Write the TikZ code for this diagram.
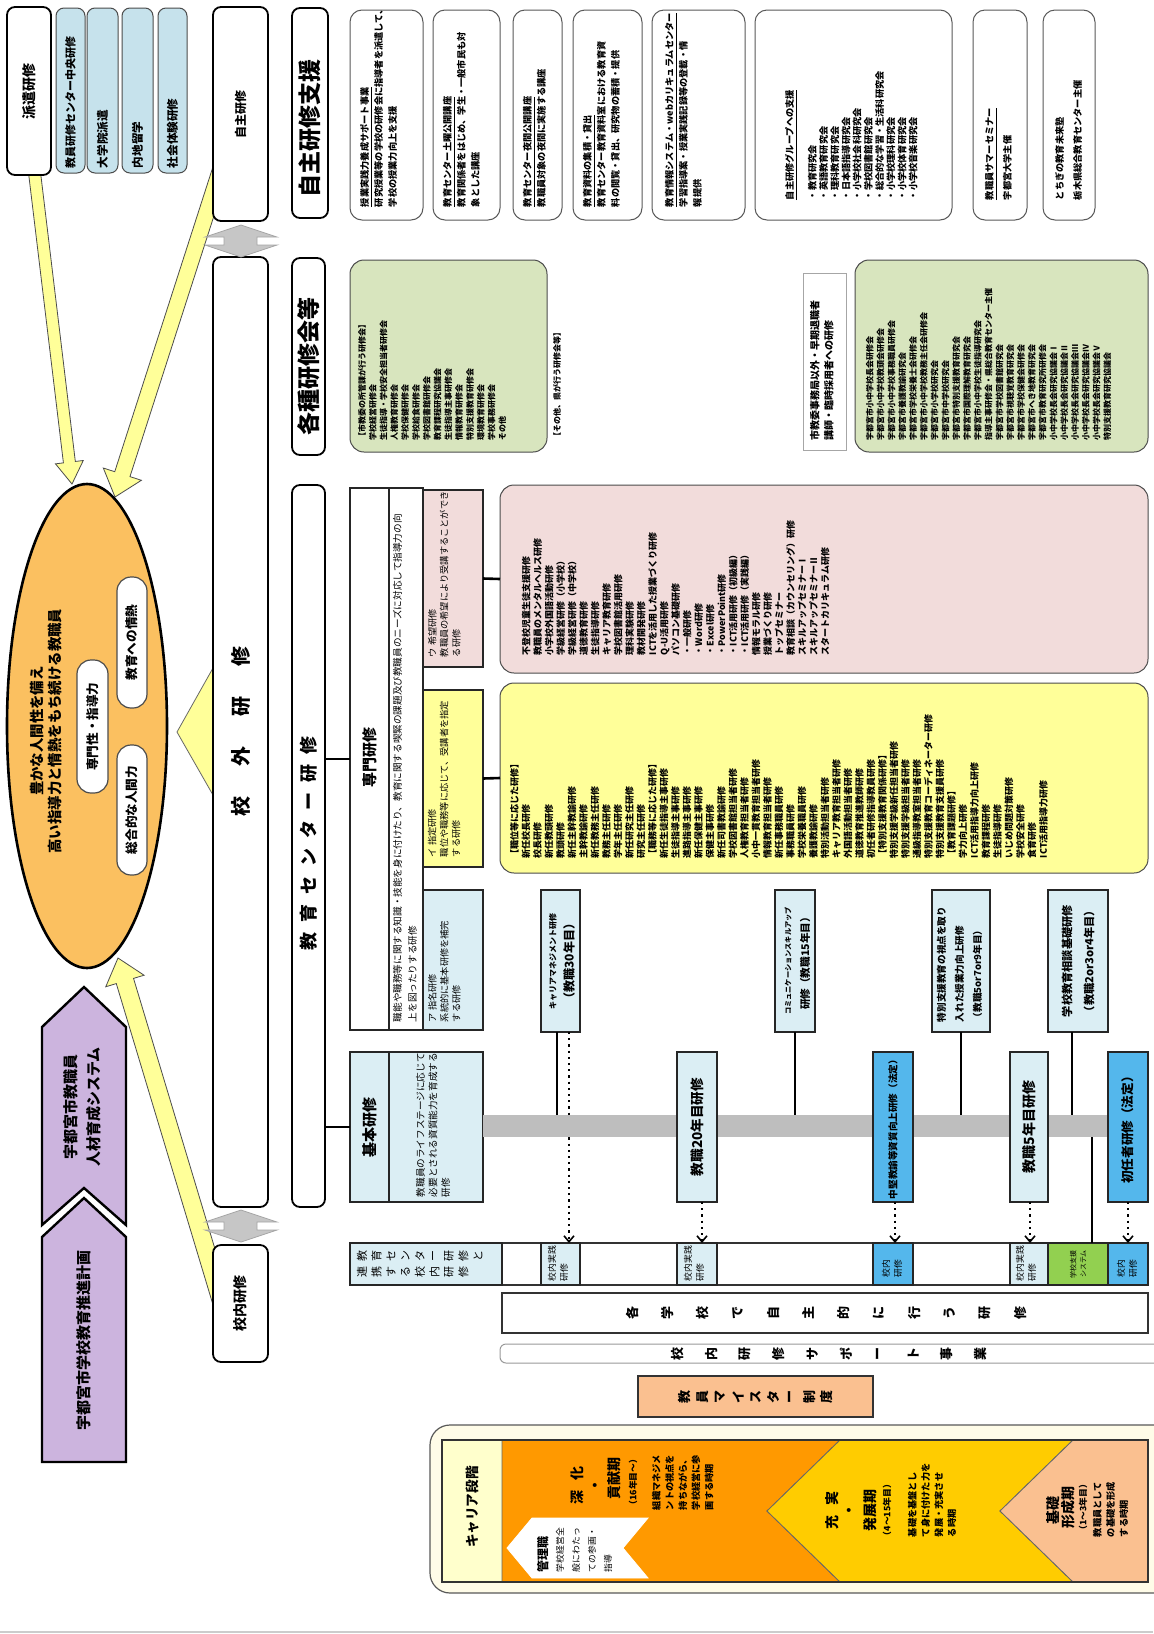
\documentclass[tikz,border=0pt]{standalone}
\usepackage{fontspec}
\setmainfont{Noto Sans CJK JP}
\usetikzlibrary{calc,shapes.geometric,arrows.meta}
\definecolor{lblue}{RGB}{219,238,244}
\definecolor{tblue}{RGB}{198,226,236}
\definecolor{sblue}{RGB}{84,183,236}
\definecolor{pinkbg}{RGB}{242,220,219}
\definecolor{yelbg}{RGB}{255,255,153}
\definecolor{grnbg}{RGB}{216,229,190}
\definecolor{ellc}{RGB}{251,192,96}
\definecolor{purp}{RGB}{204,180,222}
\definecolor{peach}{RGB}{250,192,144}
\definecolor{orng}{RGB}{255,153,0}
\definecolor{gold}{RGB}{255,204,0}
\definecolor{cream}{RGB}{255,252,232}
\definecolor{hdr}{RGB}{255,255,204}
\definecolor{bandc}{RGB}{190,190,190}
\definecolor{gcell}{RGB}{146,208,80}
\definecolor{arrowy}{RGB}{255,255,153}
\newcommand\bx[6]{\node[#6,inner sep=0pt,outer sep=0pt,minimum width={(#4-#2)*0.5pt},minimum height={(#5-#3)*0.5pt}] (#1) at ({(#2+#4)/2},{(#3+#5)/2}) {};}
\newcommand\fz[2]{\fontsize{#1}{#2}\selectfont}
\newcommand\yarrow[5]{%
  \coordinate (hb) at ($(#2)!#5pt!(#1)$);
  \filldraw[fill=arrowy,draw=black!70,line width=0.4pt]
   ($(#1)!#3pt!90:(#2)$) -- ($(hb)!#3pt!90:(#2)$) -- ($(hb)!#4pt!90:(#2)$) -- (#2)
   -- ($(hb)!#4pt!-90:(#2)$) -- ($(hb)!#3pt!-90:(#2)$) -- ($(#1)!#3pt!-90:(#2)$) -- cycle;}
\begin{document}
\begin{tikzpicture}[x=0.5pt,y=-0.5pt,
  vt/.style={rotate=90,inner sep=0pt,outer sep=0pt,align=center},
  vl/.style={rotate=90,inner sep=0pt,outer sep=0pt,align=left,anchor=north west},
  wbox/.style={draw=black,line width=0.9pt,rounded corners=4pt,fill=white},
  gbox/.style={draw=gray!70!black,line width=0.5pt,rounded corners=6pt,fill=white},
  tbox/.style={draw=gray!60!black,line width=0.5pt,rounded corners=4pt,fill=tblue},
  sq/.style={draw=black!85,line width=0.8pt,fill=lblue},
  conn/.style={line width=1.3pt},
  dotarr/.style={line width=1.1pt,dotted,-{Straight Barb[length=3pt,width=5pt,line width=0.8pt]}}]
\useasboundingbox (0,0) rectangle (1153,1634);
\fill[white] (0,0) rectangle (1153,1634);
\draw[gray!40,line width=0.6pt] (0,1632) -- (1153,1632);

% ---------- yellow block arrows ----------
\coordinate (a1t) at (33,160); \coordinate (a1p) at (72,484);
\coordinate (a2t) at (230,140); \coordinate (a2p) at (115,497);
\coordinate (a3t) at (230,1330); \coordinate (a3p) at (118,958);
\yarrow{a1t}{a1p}{3}{7}{11}
\yarrow{a2t}{a2p}{4}{10}{12}
\yarrow{a3t}{a3p}{4.5}{10}{12}
\filldraw[fill=arrowy,draw=black!60,line width=0.4pt] (177,732) -- (213,668) -- (213,795) -- cycle;

% ---------- goal ellipse ----------
\node[ellipse,draw=black,line width=1.3pt,fill=ellc,minimum width=80pt,minimum height=242pt,inner sep=0pt] (ell) at (87,726) {};
\node[vt,font=\fz{7.2}{9}\bfseries] (goal) at (46,731) {豊かな人間性を備え\\高い指導力と情熱をもち続ける教職員};
\bx{q1}{77}{660}{108}{793}{draw=black!70,line width=0.6pt,rounded corners=7pt,fill=white}
\node[vt,font=\fz{6.3}{7}\bfseries] (q1t) at (q1) {専門性・指導力};
\bx{q2}{117}{577}{147}{708}{draw=black!70,line width=0.6pt,rounded corners=7pt,fill=white}
\node[vt,font=\fz{6.3}{7}\bfseries] (q2t) at (q2) {教育への情熱};
\bx{q3}{117}{745}{147}{875}{draw=black!70,line width=0.6pt,rounded corners=7pt,fill=white}
\node[vt,font=\fz{6.3}{7}\bfseries] (q3t) at (q3) {総合的な人間力};

% ---------- purple plans ----------
\filldraw[fill=purp,draw=black,line width=1.2pt] (84,987) -- (126,1027) -- (126,1225) -- (84,1188) -- (42,1225) -- (42,1027) -- cycle;
\filldraw[fill=purp,draw=black,line width=1.2pt] (84,1198) -- (126,1237) -- (126,1462) -- (42,1462) -- (42,1237) -- cycle;
\node[vt,font=\fz{7.5}{11.5}\bfseries] (p1) at (82,1107) {宇都宮市教職員\\人材育成システム};
\node[vt,font=\fz{7.5}{9}\bfseries] (p2) at (84,1340) {宇都宮市学校教育推進計画};

% ---------- dispatch ----------
\bx{haken}{7}{7}{51}{175}{wbox}
\node[vt,font=\fz{7}{8}\bfseries] (hakent) at (haken) {派遣研修};
\bx{h1}{56}{8}{85}{173}{tbox}
\node[vt,anchor=west,font=\fz{5.5}{6}\bfseries] (h1t) at (70.5,168) {教員研修センター中央研修};
\bx{h2}{87}{8}{118}{173}{tbox}
\node[vt,anchor=west,font=\fz{5.8}{6}\bfseries] (h2t) at (102.5,168) {大学院派遣};
\bx{h3}{122}{8}{153}{173}{tbox}
\node[vt,anchor=west,font=\fz{5.8}{6}\bfseries] (h3t) at (137.5,168) {内地留学};
\bx{h4}{158}{8}{187}{173}{tbox}
\node[vt,anchor=west,font=\fz{5.8}{6}\bfseries] (h4t) at (172.5,168) {社会体験研修};

% ---------- column of categories ----------
\bx{jishu}{213}{7}{268}{221}{wbox}
\node[vt,font=\fz{6}{7}\bfseries] (jishut) at (jishu) {自主研修};
\bx{jshien}{292}{8}{328}{218}{wbox}
\node[vt,font=\fz{11.5}{12}\bfseries] (jshient) at (310,128) {自主研修支援};
\bx{kougai}{213}{257}{268}{1207}{wbox}
\node[vt,font=\fz{10}{10}\bfseries] (kougait) at (241,731) {校\hspace{15pt}外\hspace{15pt}研\hspace{15pt}修};
\bx{kakushu}{292}{258}{325}{455}{wbox}
\node[vt,font=\fz{11.5}{12}\bfseries] (kakushut) at (309,366) {各種研修会等};
\bx{center}{292}{485}{325}{1207}{wbox}
\node[vt,font=\fz{9}{9}\bfseries] (centert) at (309,843) {教\hspace{5pt}育\hspace{5pt}セ\hspace{5pt}ン\hspace{5pt}タ\hspace{5pt}ー\hspace{5pt}研\hspace{5pt}修};
\bx{kounai}{213}{1245}{268}{1362}{wbox}
\node[vt,font=\fz{7}{8}\bfseries] (kounait) at (kounai) {校内研修};
\filldraw[fill=gray!45,draw=gray!70,line width=0.4pt] (205,237) -- (241,225) -- (277,237) -- (257,237) -- (257,245) -- (277,245) -- (241,257) -- (205,245) -- (224,245) -- (224,237) -- cycle;
\filldraw[fill=gray!45,draw=gray!70,line width=0.4pt] (205,1222) -- (241,1210) -- (277,1222) -- (257,1222) -- (257,1230) -- (277,1230) -- (241,1242) -- (205,1230) -- (224,1230) -- (224,1222) -- cycle;

% ---------- self-study support row ----------
\bx{s1}{350}{10}{423}{220}{gbox}
\node[vl,font=\fz{4.6}{7}\bfseries] (s1t) at (360,207) {\underline{授業実践力養成サポート事業}\\研究授業等の学校の研修会に指導者を派遣して、\\学校の授業力向上を支援};
\bx{s2}{433}{10}{500}{220}{gbox}
\node[vl,font=\fz{4.6}{7}\bfseries] (s2t) at (443,207) {\underline{教育センター土曜公開講座}\\教育関係者をはじめ、学生・一般市民も対\\象とした講座};
\bx{s3}{513}{10}{562}{220}{gbox}
\node[vl,font=\fz{4.6}{7}\bfseries] (s3t) at (523,207) {\underline{教育センター夜間公開講座}\\教職員対象の夜間に実施する講座};
\bx{s4}{573}{10}{642}{220}{gbox}
\node[vl,font=\fz{4.6}{7}\bfseries] (s4t) at (583,207) {\underline{教育資料の集積・貸出}\\教育センター教育資料室における教育資\\料の閲覧・貸出、研究物の蓄積・提供};
\bx{s5}{652}{10}{745}{220}{gbox}
\node[vl,font=\fz{4.6}{7}\bfseries] (s5t) at (665,207) {\underline{教育情報システム・webカリキュラムセンター}\\学習指導案・授業実践記録等の登載・情\\報提供};
\bx{s6}{755}{10}{952}{220}{gbox}
\node[vl,font=\fz{4.6}{5.6}\bfseries] (s6t) at (785,200) {\underline{自主研修グループへの支援}\\[4pt]・教育研究会\\・英語教育研究会\\・理科教育研究会\\・日本語指導研究会\\・小学校社会科研究会\\・学校図書館研究会\\・総合的な学習・生活科研究会\\・小学校理科研究会\\・小学校体育研究会\\・小学校音楽研究会};
\bx{s7}{973}{10}{1027}{220}{gbox}
\node[vl,font=\fz{4.6}{9}\bfseries] (s7t) at (985,200) {\underline{教職員サマーセミナー}\\宇都宮大学主催};
\bx{s8}{1043}{10}{1095}{220}{gbox}
\node[vl,font=\fz{4.6}{9}\bfseries] (s8t) at (1055,200) {とちぎの教育未来塾\\栃木県総合教育センター主催};

% ---------- various workshops ----------
\bx{g1}{350}{260}{547}{452}{draw=gray!60!black,line width=0.5pt,rounded corners=7pt,fill=grnbg}
\node[vl,font=\fz{4}{5.4}\bfseries] (g1t) at (358,440) {【市教委の所管課が行う研修会】\\学校経営研修会\\生徒指導・学校安全担当者研修会\\人権教育研修会\\学校保健研修会\\学校給食研修会\\学校図書館研修会\\教育課程研究協議会\\生徒指導主事研修会\\情報教育研修会\\特別支援教育研修会\\環境教育研修会\\学校事務研修会\\その他\\[22pt]【その他、県が行う研修会等】};
\bx{g0}{803}{273}{846}{450}{draw=gray!70,line width=0.4pt,fill=white}
\node[vl,font=\fz{5}{7}\bfseries] (g0t) at (810,440) {市教委事務局以外・早期退職者\\講師・臨時採用者への研修};
\bx{g2}{855}{260}{1148}{452}{draw=gray!60!black,line width=0.5pt,rounded corners=7pt,fill=grnbg}
\node[vl,font=\fz{4}{5.4}\bfseries] (g2t) at (866,440) {宇都宮市小中学校長会研修会\\宇都宮市小中学校教頭会研修会\\宇都宮市小中学校事務職員研修会\\宇都宮市養護教諭研究会\\宇都宮市学校栄養士会研修会\\宇都宮市小中学校教務主任会研修会\\宇都宮市小学校研究会\\宇都宮市中学校研究会\\宇都宮市特別支援教育研究会\\宇都宮市国際理解教育研究会\\宇都宮市小中学校生徒指導研究会\\指導主事研修会・県総合教育センター主催\\宇都宮市学校図書館研究会\\宇都宮市視聴覚教育研究会\\宇都宮市学校保健会研修会\\宇都宮市へき地教育研究会\\宇都宮市教育研究所研修会\\小中学校長会研究協議会Ⅰ\\小中学校長会研究協議会Ⅱ\\小中学校長会研究協議会Ⅲ\\小中学校長会研究協議会Ⅳ\\小中学校長会研究協議会Ⅴ\\特別支援教育研究協議会};

% ---------- specialist training ----------
\bx{pink}{500}{485}{1148}{673}{draw=gray!60!black,line width=0.5pt,rounded corners=7pt,fill=pinkbg}
\node[vl,font=\fz{4.5}{5.75}\bfseries] (pinkt) at (522,655) {不登校児童生徒支援研修\\教職員のメンタルヘルス研修\\小学校外国語活動研修\\学級経営研修（小学校）\\学級経営研修（中学校）\\道徳教育研修\\生徒指導研修\\キャリア教育研修\\学校図書館活用研修\\理科実験研修\\教材開発研修\\ICTを活用した授業づくり研修\\Q-U活用研修\\パソコン基礎研修\\・一般研修\\・Word研修\\・Excel研修\\・PowerPoint研修\\・ICT活用研修（初級編）\\・ICT活用研修（実践編）\\情報モラル研修\\授業づくり研修\\トップセミナー\\教育相談（カウンセリング）研修\\スキルアップセミナーⅠ\\スキルアップセミナーⅡ\\スタートカリキュラム研修};
\bx{yel}{500}{683}{1148}{873}{draw=gray!60!black,line width=0.5pt,rounded corners=7pt,fill=yelbg}
\node[vl,font=\fz{4.5}{5.75}\bfseries] (yelt) at (510,858) {【職位等に応じた研修】\\新任校長研修\\校長研修\\新任教頭研修\\教頭研修\\新任主幹教諭研修\\主幹教諭研修\\新任教務主任研修\\教務主任研修\\学年主任研修\\新任研究主任研修\\研究主任研修\\【職務等に応じた研修】\\新任生徒指導主事研修\\生徒指導主事研修\\進路指導主事研修\\新任保健主事研修\\保健主事研修\\新任司書教諭研修\\学校図書館担当者研修\\人権教育担当者研修\\小中一貫教育担当者研修\\情報教育担当者研修\\新任事務職員研修\\事務職員研修\\学校栄養職員研修\\養護教諭研修\\特別活動担当者研修\\キャリア教育担当者研修\\外国語活動担当者研修\\道徳教育推進教師研修\\初任者研修指導教員研修\\【特別支援教育関係研修】\\特別支援学級新任担当者研修\\特別支援学級担当者研修\\通級指導教室担当者研修\\特別支援教育コーディネーター研修\\特別支援教育支援員研修\\【教育課題研修】\\学力向上研修\\ICT活用指導力向上研修\\教育課程研修\\生徒指導研修\\いじめ問題対策研修\\学校安全研修\\食育研修\\ICT活用指導力研修};

\bx{senmon}{350}{488}{423}{1030}{sq,fill=white}
\draw[black!85,line width=0.8pt] (389,488) -- (389,1030);
\node[vt,font=\fz{7.5}{8}\bfseries] (senmont) at (369.5,757) {専門研修};
\node[vl,font=\fz{4.8}{7.5}] (senmond) at (393,1022) {職能や職務等に関する知識・技能を身に付けたり、教育に関する喫緊の課題及び教職員のニーズに対応して指導力の向\\上を図ったりする研修};
\bx{ku}{423}{490}{483}{667}{sq,fill=pinkbg}
\node[vl,font=\fz{4.6}{6}] (kut) at (428,657) {ウ\ 希望研修\\教職員の希望により受講することができ\\る研修};
\bx{ki}{423}{690}{483}{867}{sq,fill=yelbg}
\node[vl,font=\fz{4.6}{6}] (kit) at (428,857) {イ\ 指定研修\\職位や職務等に応じて、受講者を指定\\する研修};
\bx{ka}{423}{890}{483}{1030}{sq}
\node[vl,font=\fz{4.6}{6}] (kat) at (428,1022) {ア\ 指名研修\\系統的に基本研修を補完\\する研修};
\draw[conn] (ku.east) -- (pink.west);
\draw[conn] (ki.east) -- (yel.west);

% ---------- basic training ----------
\bx{kihon}{350}{1052}{483}{1202}{sq}
\draw[black!85,line width=0.8pt] (389,1052) -- (389,1202);
\node[vt,font=\fz{7.5}{8}\bfseries] (kihont) at (369.5,1127) {基本研修};
\node[vl,font=\fz{4.8}{6.3}] (kihond) at (416,1197) {教職員のライフステージに応じて\\必要とされる資質能力を育成する\\研修};
\draw[conn] (center.east |- senmon.west) -- (senmon.west);
\draw[conn] (center.east |- kihon.west) -- (kihon.west);

% ---------- bottom row of school-based training ----------
\bx{brow}{350}{1243}{1148}{1285}{draw=black!80,line width=0.8pt,fill=white}
\bx{b0}{350}{1243}{502}{1285}{sq}
\foreach \c [count=\i from 0] in {教,育,セ,ン,タ,ー,研,修,と}
  \node[vt,font=\fz{5.5}{6}] (bo\i) at ({362+\i*14.5},1256) {\c};
\foreach \c [count=\i from 0] in {連,携,す,る,校,内,研,修}
  \node[vt,font=\fz{5.5}{6}] (bt\i) at ({362+\i*14.5},1272) {\c};
\bx{b1}{541}{1243}{580}{1285}{sq}
\node[vl,font=\fz{4.4}{6}] (b1t) at (548,1281) {校内実践\\研修};
\bx{b2}{677}{1243}{717}{1285}{sq}
\node[vl,font=\fz{4.4}{6}] (b2t) at (684,1281) {校内実践\\研修};
\bx{b3}{873}{1243}{913}{1285}{sq,fill=sblue}
\node[vl,font=\fz{4.4}{6}] (b3t) at (882,1277) {校内\\研修};
\bx{b4}{1010}{1243}{1048}{1285}{sq}
\node[vl,font=\fz{4.4}{6}] (b4t) at (1016,1281) {校内実践\\研修};
\bx{b5}{1048}{1243}{1108}{1285}{sq,fill=gcell}
\node[vt,font=\fz{3.5}{5}] (b5t) at (b5) {学校支援\\システム};
\bx{b6}{1108}{1243}{1148}{1285}{sq,fill=sblue}
\node[vl,font=\fz{4.4}{6}] (b6t) at (1117,1277) {校内\\研修};

% ---------- timeline ----------
\bx{t1}{541}{890}{580}{1032}{sq}
\node[vt,font=\fz{4}{5}\bfseries] (t1a) at (553,961) {キャリアマネジメント研修};
\node[vt,font=\fz{6}{7}\bfseries] (t1b) at (569,961) {（教職30年目）};
\bx{t3}{775}{890}{815}{1032}{sq}
\node[vt,font=\fz{3.6}{4}\bfseries] (t3a) at (788,961) {コミュニケーションスキルアップ};
\node[vt,font=\fz{5.3}{6}\bfseries] (t3b) at (805,961) {研修（教職15年目）};
\bx{t5}{932}{890}{990}{1032}{sq}
\node[vl,font=\fz{4.8}{9}\bfseries] (t5t) at (937,1022) {特別支援教育の視点を取り\\入れた授業力向上研修\\（教職5or7or9年目）};
\bx{t7}{1048}{890}{1108}{1032}{sq}
\node[vt,font=\fz{5.6}{11}\bfseries] (t7t) at (t7) {学校教育相談基礎研修\\（教職2or3or4年目）};

\draw[conn] ([xshift=-1.75pt]t1.south) -- ([xshift=-1.75pt]t1.south |- 0,1116);
\draw[conn] (t3.south) -- (t3.south |- 0,1116);
\draw[conn] (t5.south) -- (t5.south |- 0,1116);
\draw[conn] ([xshift=-3pt]t7.south) -- ([xshift=-3pt]t7.south |- 0,1116);
\draw[dotarr] ([xshift=4.25pt]t1.south) -- ([xshift=4.25pt]t1.south |- b1.north);
\bx{band}{483}{1115}{1108}{1137}{fill=bandc}
\draw[conn] (1092,1137) -- (b5.north -| 1092,0);

\bx{t2}{677}{1052}{717}{1202}{sq}
\node[vt,font=\fz{6.8}{7}\bfseries] (t2t) at (t2) {教職20年目研修};
\bx{t4}{873}{1052}{913}{1202}{sq,fill=sblue}
\node[vt,font=\fz{4.8}{6}\bfseries] (t4t) at (t4) {中堅教諭等資質向上研修（法定）};
\bx{t6}{1010}{1052}{1048}{1202}{sq}
\node[vt,font=\fz{7}{8}\bfseries] (t6t) at (t6) {教職5年目研修};
\bx{t8}{1108}{1052}{1148}{1202}{sq,fill=sblue}
\node[vt,font=\fz{6.3}{7}\bfseries] (t8t) at (t8) {初任者研修（法定）};
\draw[dotarr] ([xshift=2.5pt]t2.south) -- ([xshift=2.5pt]t2.south |- b2.north);
\draw[dotarr] ([xshift=1pt]t4.south) -- ([xshift=1pt]t4.south |- b3.north);
\draw[dotarr] ([xshift=0.5pt]t6.south) -- ([xshift=0.5pt]t6.south |- b4.north);
\draw[dotarr] (t8.south) -- (t8.south |- b6.north);

% ---------- lower bars ----------
\bx{jrow}{502}{1293}{1148}{1333}{draw=black!80,line width=1pt,fill=white}
\foreach \c [count=\i from 0] in {各,学,校,で,自,主,的,に,行,う,研,修}
  \node[vt,font=\fz{6.5}{7}\bfseries] (jr\i) at ({632+\i*35.3},1313) {\c};
\bx{srow}{500}{1344}{1170}{1363}{draw=gray!80,line width=0.5pt,rounded corners=3pt,fill=white}
\foreach \c [count=\i from 0] in {校,内,研,修,サ,ポ,ー,ト,事,業}
  \node[vt,font=\fz{6.5}{7}\bfseries] (sr\i) at ({678+\i*33.6},1354) {\c};
\bx{meister}{638}{1376}{873}{1417}{draw=black!80,line width=0.8pt,fill=peach}
\foreach \c [count=\i from 0] in {教,員,マ,イ,ス,タ,ー,制,度}
  \node[vt,font=\fz{6.5}{7}\bfseries] (me\i) at ({685+\i*17.75},1397) {\c};

% ---------- career stages ----------
\bx{career}{430}{1425}{1175}{1593}{draw=gray!70!black,line width=0.6pt,rounded corners=10pt,fill=cream}
\fill[hdr] (442,1440) rectangle (502,1582);
\filldraw[fill=orng,draw=black!60,line width=0.4pt] (502,1440) -- (840,1440) -- (767,1511) -- (840,1582) -- (502,1582) -- cycle;
\filldraw[fill=gold,draw=black!60,line width=0.4pt] (840,1440) -- (1073,1440) -- (1000,1511) -- (1073,1582) -- (840,1582) -- (767,1511) -- cycle;
\filldraw[fill=peach,draw=black!60,line width=0.4pt] (1073,1440) -- (1148,1440) -- (1148,1582) -- (1073,1582) -- (1000,1511) -- cycle;
\draw[black!80,line width=0.8pt] (442,1440) rectangle (1148,1582);
\node[vt,font=\fz{6.8}{7}\bfseries] (cst) at (472,1507) {キャリア段階};
\filldraw[fill=white,draw=white] (532,1518) -- (648,1518) -- (623,1548) -- (648,1578) -- (532,1578) -- (507,1548) -- cycle;
\node[vl,font=\fz{4.4}{8}] (kanri) at (537,1572) {\textbf{\fz{6}{8}管理職}\\学校経営全\\般にわたっ\\ての参画・\\指導};
\node[vt,font=\fz{7}{8}\bfseries] (o1) at (577,1485) {深\hspace{5pt}化};
\node[vt,font=\fz{7}{8}\bfseries] (o2) at (597,1485) {・};
\node[vt,font=\fz{7}{8}\bfseries] (o3) at (614,1478) {貢献期};
\node[vt,font=\fz{4.4}{5}\bfseries] (o4) at (633,1482) {（16年目〜）};
\node[vl,font=\fz{4.6}{6.6}\bfseries] (o5) at (652,1510) {組織マネジメ\\ントの視点を\\持ちながら、\\学校経営に参\\画する時期};
\node[vt,font=\fz{7}{8}\bfseries] (y1) at (832,1510) {充\hspace{5pt}実};
\node[vt,font=\fz{7}{8}\bfseries] (y2) at (851,1510) {・};
\node[vt,font=\fz{7}{8}\bfseries] (y3) at (870,1510) {発展期};
\node[vt,font=\fz{4.4}{5}\bfseries] (y4) at (887,1510) {（4〜15年目）};
\node[vl,font=\fz{4.6}{6.6}\bfseries] (y5) at (908,1537) {基礎を基盤とし\\て身に付けた力を\\発展・充実させ\\る時期};
\node[vt,font=\fz{7}{8}\bfseries] (r1) at (1053,1510) {基礎};
\node[vt,font=\fz{7}{8}\bfseries] (r2) at (1068,1507) {形成期};
\node[vt,font=\fz{4.4}{5}\bfseries] (r3) at (1083,1507) {（1〜3年目）};
\node[vl,font=\fz{4.6}{6.6}\bfseries] (r4) at (1093,1537) {教職員として\\の基礎を形成\\する時期};
\end{tikzpicture}
\end{document}
